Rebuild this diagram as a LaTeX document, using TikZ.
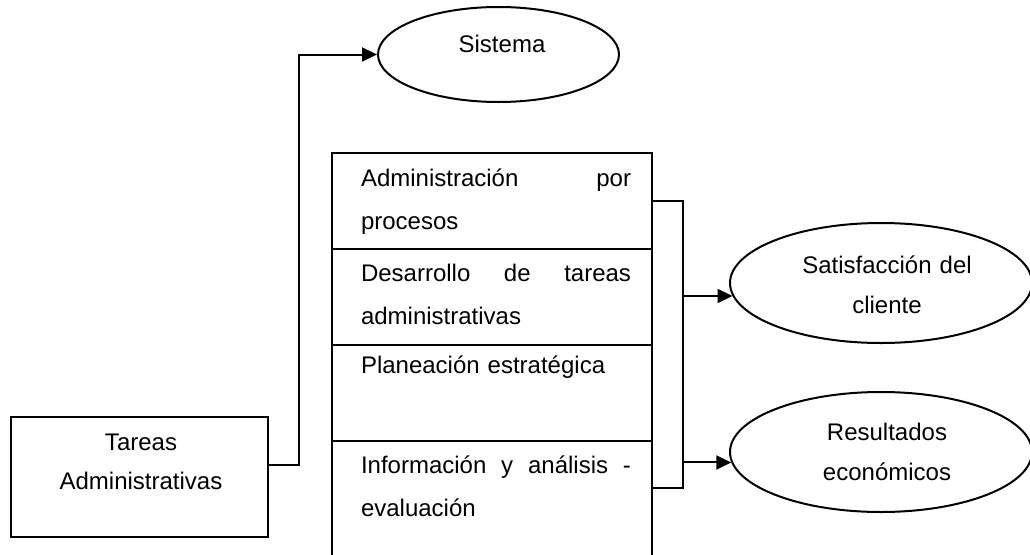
\documentclass[tikz,border=0pt]{standalone}
\usepackage{fontspec}
\setmainfont{Liberation Sans}
\usetikzlibrary{arrows.meta,shapes.geometric,calc}
\begin{document}
\begin{tikzpicture}[x=1pt,y=-1pt,
  line width=2pt,
  txt/.style={font=\fontsize{24}{43}\selectfont, inner sep=0pt},
  cell/.style={draw, rectangle, anchor=north west, minimum width=320pt, minimum height=96pt, inner sep=0pt},
  oval/.style={draw, ellipse, inner sep=0pt},
  arr/.style={-{Triangle[length=15pt,width=14pt]}},
]
\useasboundingbox (0,0) rectangle (1030,554);
\clip (0,0) rectangle (1030,554);

% stacked boxes
\node[cell] (c1) at (331,152) {};
\node[cell] (c2) at (331,248) {};
\node[cell] (c3) at (331,344) {};
\node[cell, minimum height=160pt] (c4) at (331,440) {};

\node[txt, anchor=base west, text width=270pt, align=left] (t1) at (360,186) {Administración\hfill por\\procesos};
\node[txt, anchor=base west, text width=270pt, align=left] (t2) at (360,281) {Desarrollo\hfill de\hfill tareas\\administrativas};
\node[txt, anchor=base west, text width=270pt, align=left] (t3) at (360,373) {Planeación estratégica};
\node[txt, anchor=base west, text width=270pt, align=left] (t4) at (360,473) {Información\hfill y\hfill análisis\hfill -\\evaluación};

% left box
\node[draw, rectangle, anchor=north west, minimum width=257pt, minimum height=120pt, inner sep=0pt] (tar) at (10,416) {};
\node[txt, font=\fontsize{24}{39}\selectfont, anchor=base, text width=250pt, align=center] (tart) at (141,450) {Tareas\\Administrativas};

% ellipses
\node[oval, minimum width=241pt, minimum height=95pt] (sis) at (498.5,54.5) {};
\node[txt, anchor=base] (sist) at (502,52) {Sistema};

\node[oval, minimum width=302pt, minimum height=120pt] (sat) at (881,283) {};
\node[txt, font=\fontsize{24}{40}\selectfont, anchor=base, text width=200pt, align=center] (satt) at (887,273) {Satisfacción del\\cliente};

\node[oval, minimum width=302pt, minimum height=120pt] (res) at (881,452) {};
\node[txt, font=\fontsize{24}{40}\selectfont, anchor=base, text width=200pt, align=center] (rest) at (887,440) {Resultados\\económicos};

% connectors
\coordinate (k1) at (299,0);
\draw[arr] ([yshift=12pt]tar.east) -| (k1 |- sis.west) -- (sis.west);

\coordinate (bk) at (683,0);
\coordinate (c4b) at ([yshift=-48pt]c4.north east);
\draw (c1.east) -| (bk |- c4b) -- (c4b);
\draw[arr] (bk |- sat.185) -- (sat.185);
\draw[arr] (bk |- res.184) -- (res.184);
\end{tikzpicture}
\end{document}
